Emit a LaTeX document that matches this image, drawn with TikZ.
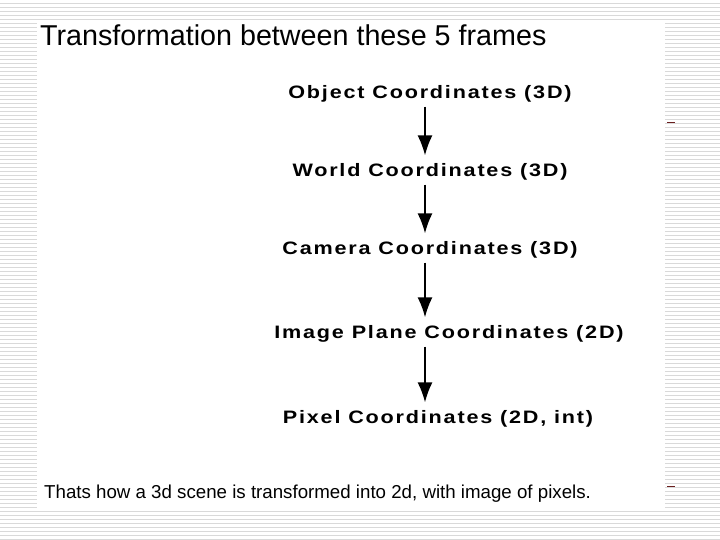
\documentclass[tikz,border=0pt]{standalone}
\usepackage{fontspec}
\setmainfont{Liberation Sans}
\newfontfamily\labelfont[LetterSpace=10,FakeStretch=1.2]{Liberation Sans}
\usetikzlibrary{arrows.meta}
\usetikzlibrary{positioning}
\definecolor{stripe}{HTML}{D9D9D9}
\definecolor{tickred}{HTML}{6B1F1F}
\tikzstyle{frame}=[inner sep=0pt, font=\labelfont\bfseries\fontsize{18}{20}\selectfont]
\tikzset{>={Latex[length=20pt,width=15pt]}}

\begin{document}
\begin{tikzpicture}[x=1pt, y=-1pt]
      \useasboundingbox (0,0) rectangle (720,540);

      % striped slide background and the white panel
      \foreach \yy in {3.5,7.5,...,539.5}
        \draw[stripe, line width=1.4pt] (0,\yy) -- (720,\yy);
      \fill[white] (37,22) rectangle (665,510);
      \draw[tickred, line width=1pt] (667,123) -- (675,123);
      \draw[tickred, line width=1pt] (667,486) -- (675,486);

      \node[anchor=base west, inner sep=0pt, font=\fontsize{28.7}{32}\selectfont] (title) at (40,46) {Transformation between these 5 frames};

      \draw node at (430, 94) [frame] (obj) {Object Coordinates (3D)};
      \draw node at (430, 172) [frame] (world) {World Coordinates (3D)};
      \draw node at (430, 250) [frame] (cam) {Camera Coordinates (3D)};
      \draw node at (449, 334) [frame] (img) {Image Plane Coordinates (2D)};
      \draw node at (438, 419) [frame] (pix) {Pixel Coordinates (2D, int)};

      \coordinate (ax) at (425,0);
      \draw [->, line width=1.8pt] ([yshift=-4pt]obj.south -| ax) to ([yshift=8pt]world.north -| ax);
      \draw [->, line width=1.8pt] ([yshift=-4pt]world.south -| ax) to ([yshift=8pt]cam.north -| ax);
      \draw [->, line width=1.8pt] ([yshift=-4pt]cam.south -| ax) to ([yshift=8pt]img.north -| ax);
      \draw [->, line width=1.8pt] ([yshift=-4pt]img.south -| ax) to ([yshift=8pt]pix.north -| ax);

      \node[anchor=base west, inner sep=0pt, font=\fontsize{18.7}{21}\selectfont] (note) at (44,498) {Thats how a 3d scene is transformed into 2d, with image of pixels.};
    \end{tikzpicture}
\end{document}
